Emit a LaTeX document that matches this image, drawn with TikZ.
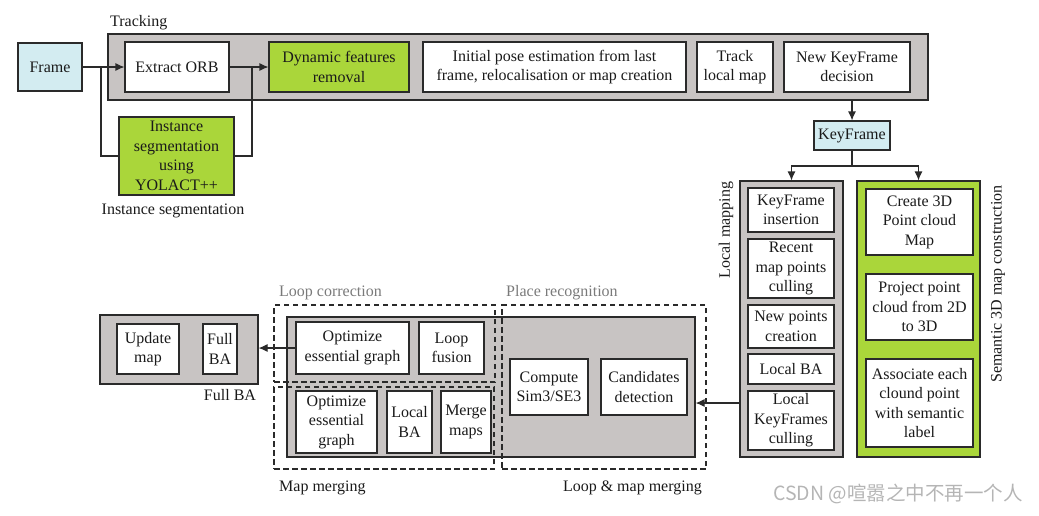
\documentclass[tikz,border=0pt]{standalone}
\usepackage{fontspec}
\setmainfont{Liberation Serif}
\newfontfamily\cjk{Noto Sans CJK SC}
\usetikzlibrary{arrows.meta}
\definecolor{grayfill}{HTML}{C8C4C3}
\definecolor{greenfill}{HTML}{AAD63A}
\definecolor{cyanfill}{HTML}{D3ECF1}
\definecolor{bordc}{HTML}{2A2A2A}
\definecolor{txtc}{HTML}{1A1A1A}
\definecolor{labgray}{HTML}{7A7A7A}
\definecolor{wmark}{HTML}{B5B5B5}
\tikzset{
  basefont/.style={font=\fontsize{16}{19.5}\selectfont},
  bx/.style={draw=bordc, line width=1.1pt, fill=white, align=center, inner sep=0pt, text=txtc, basefont},
  greenbx/.style={bx, fill=greenfill},
  cyanbx/.style={bx, fill=cyanfill},
  graybx/.style={draw=bordc, line width=1.1pt, fill=grayfill, inner sep=0pt},
  greencont/.style={draw=bordc, line width=1.1pt, fill=greenfill, inner sep=0pt},
  dashbx/.style={draw=bordc, line width=1.25pt, dash pattern=on 5.5pt off 3.5pt, fill=none, inner sep=0pt},
  lab/.style={text=txtc, inner sep=0pt, basefont},
  glab/.style={text=labgray, inner sep=0pt, basefont},
  conn/.style={draw=bordc, line width=1.1pt},
  arr/.style={conn, -{Latex[length=9pt,width=8pt]}},
}
\begin{document}
\begin{tikzpicture}[x=1pt,y=-1pt]
\useasboundingbox (0,0) rectangle (1039,515);

% ---------- Tracking ----------
\node[graybx, minimum width=820, minimum height=66] (trk) at (518,67) {};
\node[lab, anchor=west] (trklab) at (110,23) {Tracking};
\node[cyanbx, minimum width=64, minimum height=48] (frame) at (50,67) {Frame};
\node[bx, minimum width=104, minimum height=50] (orb) at (177,67) {Extract ORB};
\node[greenbx, minimum width=140, minimum height=50] (dyn) at (339,67) {Dynamic features\\removal};
\node[bx, minimum width=263, minimum height=50] (init) at (554.5,67) {Initial pose estimation from last\\frame, relocalisation or map creation};
\node[bx, minimum width=76, minimum height=50] (tlm) at (735,67) {Track\\local map};
\node[bx, minimum width=126, minimum height=50] (nkf) at (847,67) {New KeyFrame\\decision};

\node[greenbx, minimum width=115, minimum height=78] (inst) at (176.5,156) {Instance\\segmentation\\using\\YOLACT++};
\node[lab] (instlab) at (173,211) {Instance segmentation};

\coordinate (b1) at (101,67);
\coordinate (b2) at (252,67);
\draw[arr] (frame.east) -- (orb.west);
\draw[conn] (b1) |- (inst.west);
\draw[conn] (inst.east) -| (b2);
\draw[arr] (orb.east) -- (dyn.west);

% ---------- KeyFrame ----------
\node[cyanbx, minimum width=76, minimum height=29] (kf) at (852,135.5) {KeyFrame};
\draw[arr] (kf.north |- trk.south) -- (kf.north);

% ---------- Local mapping ----------
\node[graybx, minimum width=103, minimum height=276] (lm) at (791.5,319) {};
\node[lab, rotate=90] (lmlab) at (726,230) {Local mapping};
\node[bx, minimum width=86, minimum height=44] (lm1) at (791,210) {KeyFrame\\insertion};
\node[bx, minimum width=86, minimum height=59] (lm2) at (791,268.5) {Recent\\map points\\culling};
\node[bx, minimum width=86, minimum height=43] (lm3) at (791,326.5) {New points\\creation};
\node[bx, minimum width=86, minimum height=30] (lm4) at (791,369) {Local BA};
\node[bx, minimum width=86, minimum height=59] (lm5) at (791,420.5) {Local\\KeyFrames\\culling};

% ---------- Semantic ----------
\node[greencont, minimum width=123, minimum height=276] (sem) at (918.5,319) {};
\node[lab, rotate=90] (semlab) at (998,284) {Semantic 3D map construction};
\node[bx, minimum width=107, minimum height=66] (s1) at (919.5,222) {Create 3D\\Point cloud\\Map};
\node[bx, minimum width=107, minimum height=66] (s2) at (919.5,307) {Project point\\cloud from 2D\\to 3D};
\node[bx, minimum width=107, minimum height=88] (s3) at (919.5,403) {Associate each\\clound point\\with semantic\\label};

\coordinate (split) at (852,166);
\draw[conn] (kf.south) -- (split);
\draw[arr] (split) -| (lm.north);
\draw[arr] (split) -| (sem.north);

% ---------- Full BA ----------
\node[graybx, minimum width=158, minimum height=69] (fba) at (179,349.5) {};
\node[bx, minimum width=62, minimum height=50] (upd) at (148,349) {Update\\map};
\node[bx, minimum width=34, minimum height=50] (fbai) at (220,349) {Full\\BA};
\node[lab] (fbalab) at (230,395) {Full BA};

% ---------- Loop & map merging ----------
\node[graybx, minimum width=408, minimum height=140] (lgm) at (491,387) {};
\node[dashbx, minimum width=221, minimum height=77] (lcd) at (384.5,343.5) {};
\node[dashbx, minimum width=220, minimum height=82] (mmd) at (384,428) {};
\node[dashbx, minimum width=204, minimum height=164] (prd) at (604,387) {};
\node[glab, anchor=west] (lclab) at (279,293) {Loop correction};
\node[glab, anchor=west] (prlab) at (506,293) {Place recognition};
\node[lab, anchor=west] (mmlab) at (279,488) {Map merging};
\node[lab, anchor=east] (lmmlab) at (702,488) {Loop \& map merging};

\node[bx, minimum width=113, minimum height=52] (opt1) at (352.5,348) {Optimize\\essential graph};
\node[bx, minimum width=65, minimum height=52] (lf) at (451.5,348) {Loop\\fusion};
\node[bx, minimum width=81, minimum height=62] (opt2) at (336.5,422) {Optimize\\essential\\graph};
\node[bx, minimum width=45, minimum height=62] (lba) at (409.5,422) {Local\\BA};
\node[bx, minimum width=50, minimum height=62] (mm) at (466,422) {Merge\\maps};
\node[bx, minimum width=78, minimum height=56] (cs) at (549,387) {Compute\\Sim3/SE3};
\node[bx, minimum width=86, minimum height=56] (cd) at (644,387) {Candidates\\detection};

\draw[arr] (opt1.west) -- (opt1.west -| fba.east);
\coordinate (a1) at (740,403);
\draw[arr] (a1) -- (a1 -| lgm.east);

% ---------- watermark ----------
\node[text=wmark, inner sep=0pt, anchor=west, font=\cjk\fontsize{19.5}{22}\selectfont] (wm) at (773,494) {CSDN @喧嚣之中不再一个人};
\end{tikzpicture}
\end{document}
